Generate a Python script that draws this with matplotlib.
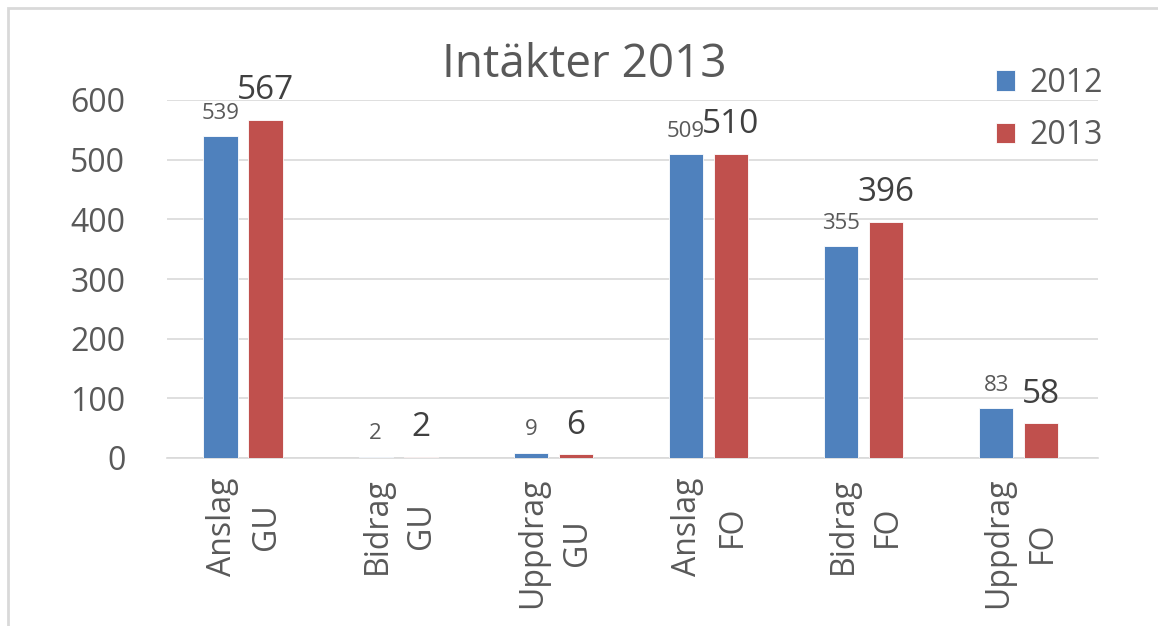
import numpy as np
import matplotlib.pyplot as plt
from matplotlib.patches import Rectangle

categories = ["Anslag\nGU", "Bidrag\nGU", "Uppdrag\nGU", "Anslag\nFO", "Bidrag\nFO", "Uppdrag\nFO"]
values_2012 = [539, 2, 9, 509, 355, 83]
values_2013 = [567, 2, 6, 510, 396, 58]
series_names = ["2012", "2013"]
yticks = [0, 100, 200, 300, 400, 500, 600]

plt.rcParams['font.family'] = ['Open Sans', 'DejaVu Sans']
text_col = '#595959'
blue = '#4F81BD'
red = '#C0504D'

W, H = 1158, 626
fig = plt.figure(figsize=(W / 100, H / 100), dpi=100)
ax = fig.add_axes([167 / W, 1 - 458 / H, (1098 - 167) / W, (458 - 100) / H])

x = np.arange(len(categories))
bw = 0.22
off = 0.145
b1 = ax.bar(x - off - 0.01, values_2012, bw, color=blue, edgecolor='white', linewidth=0.6, label=series_names[0], zorder=3)
b2 = ax.bar(x + off - 0.01, values_2013, bw, color=red, edgecolor='white', linewidth=0.6, label=series_names[1], zorder=3)

for xi, v in zip(x - off - 0.01, values_2012):
    ax.annotate(str(v), (xi, v), xytext=(0, 9), textcoords='offset points',
                ha='center', va='bottom', fontsize=16, color=text_col)
for xi, v in zip(x + off - 0.01, values_2013):
    ax.annotate(str(v), (xi, v), xytext=(0, 9), textcoords='offset points',
                ha='center', va='bottom', fontsize=24, color='#404040')

ax.set_xlim(-0.5, len(categories) - 0.5)
ax.set_ylim(0, 600)
ax.set_yticks(yticks)
ax.set_yticklabels([str(t) for t in yticks], fontsize=23, color=text_col)
ax.set_xticks(x)
ax.set_xticklabels(categories, rotation=90, fontsize=23, color=text_col,
                   multialignment='center', linespacing=1.45)
ax.tick_params(axis='y', length=0, pad=30)
ax.tick_params(axis='x', length=0, pad=14)
ax.grid(axis='y', color='#D9D9D9', linewidth=1.2, zorder=0)
for s in ['top', 'right', 'left']:
    ax.spines[s].set_visible(False)
ax.spines['bottom'].set_color('#D9D9D9')
ax.spines['bottom'].set_linewidth(1.2)

fig.text(584 / W, 1 - 65 / H, "Intäkter 2013", ha='center', va='center', fontsize=33, color=text_col)

fig.legend(handles=[b1, b2], loc='upper left', bbox_to_anchor=(967 / W, 1 - 38 / H),
           frameon=False, fontsize=23, handlelength=0.6, handleheight=0.6,
           handletextpad=0.45, labelspacing=0.6, labelcolor=text_col)

fig.patches.append(Rectangle((8 / W, -0.1), 1.2, 1 - 8 / H + 0.1, transform=fig.transFigure,
                             fill=False, edgecolor='#D9D9D9', linewidth=2))

fig.savefig('out.png', dpi=100)
